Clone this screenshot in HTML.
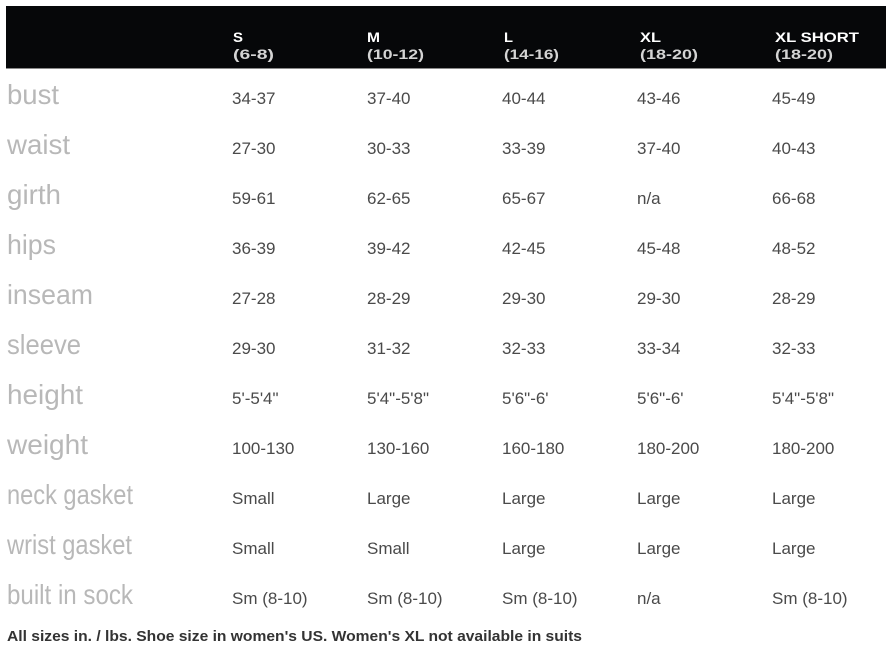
<!DOCTYPE html>
<html>
<head>
<meta charset="utf-8">
<style>
  html, body { margin: 0; padding: 0; background: #fff; }
  svg { display: block; }
  .lbl { font-family: "Liberation Sans", sans-serif; font-size: 28px; fill: #b8b8b8; }
  .val { font-family: "Liberation Sans", sans-serif; font-size: 17px; fill: #4a4a4a; }
  .h1 { font-family: "Liberation Sans", sans-serif; font-size: 13.5px; font-weight: bold; fill: #ffffff; }
  .h2 { font-family: "Liberation Sans", sans-serif; font-size: 13.5px; font-weight: bold; fill: #d4d4d4; }
  .foot { font-family: "Liberation Sans", sans-serif; font-size: 15px; font-weight: bold; fill: #333333; }
</style>
</head>
<body>
<svg width="892" height="647" viewBox="0 0 892 647" xmlns="http://www.w3.org/2000/svg">
  <rect x="0" y="0" width="892" height="647" fill="#ffffff"/>
  <rect x="6" y="6" width="880" height="62" fill="#060709"/>
  <rect x="6" y="68" width="880" height="1" fill="#8a8a8a"/>

  <!-- header -->
  <text class="h1" x="233" y="42" textLength="10" lengthAdjust="spacingAndGlyphs">S</text>
  <text class="h2" x="233" y="59" textLength="41" lengthAdjust="spacingAndGlyphs">(6-8)</text>
  <text class="h1" x="367" y="42" textLength="13" lengthAdjust="spacingAndGlyphs">M</text>
  <text class="h2" x="367" y="59" textLength="57" lengthAdjust="spacingAndGlyphs">(10-12)</text>
  <text class="h1" x="504" y="42" textLength="9" lengthAdjust="spacingAndGlyphs">L</text>
  <text class="h2" x="504" y="59" textLength="55" lengthAdjust="spacingAndGlyphs">(14-16)</text>
  <text class="h1" x="640" y="42" textLength="21" lengthAdjust="spacingAndGlyphs">XL</text>
  <text class="h2" x="640" y="59" textLength="58" lengthAdjust="spacingAndGlyphs">(18-20)</text>
  <text class="h1" x="775" y="42" textLength="84" lengthAdjust="spacingAndGlyphs">XL SHORT</text>
  <text class="h2" x="775" y="59" textLength="58" lengthAdjust="spacingAndGlyphs">(18-20)</text>

  <!-- labels -->
  <text class="lbl" x="7" y="104" textLength="52" lengthAdjust="spacingAndGlyphs">bust</text>
  <text class="lbl" x="7" y="154" textLength="63" lengthAdjust="spacingAndGlyphs">waist</text>
  <text class="lbl" x="7" y="204" textLength="54" lengthAdjust="spacingAndGlyphs">girth</text>
  <text class="lbl" x="7" y="254" textLength="49" lengthAdjust="spacingAndGlyphs">hips</text>
  <text class="lbl" x="7" y="304" textLength="86" lengthAdjust="spacingAndGlyphs">inseam</text>
  <text class="lbl" x="7" y="354" textLength="74" lengthAdjust="spacingAndGlyphs">sleeve</text>
  <text class="lbl" x="7" y="404" textLength="76" lengthAdjust="spacingAndGlyphs">height</text>
  <text class="lbl" x="7" y="454" textLength="81" lengthAdjust="spacingAndGlyphs">weight</text>
  <text class="lbl" x="7" y="504" textLength="126" lengthAdjust="spacingAndGlyphs">neck gasket</text>
  <text class="lbl" x="7" y="554" textLength="125" lengthAdjust="spacingAndGlyphs">wrist gasket</text>
  <text class="lbl" x="7" y="604" textLength="126" lengthAdjust="spacingAndGlyphs">built in sock</text>

  <!-- values -->
  <g>
    <text class="val" x="232" y="104">34-37</text>
    <text class="val" x="367" y="104">37-40</text>
    <text class="val" x="502" y="104">40-44</text>
    <text class="val" x="637" y="104">43-46</text>
    <text class="val" x="772" y="104">45-49</text>

    <text class="val" x="232" y="154">27-30</text>
    <text class="val" x="367" y="154">30-33</text>
    <text class="val" x="502" y="154">33-39</text>
    <text class="val" x="637" y="154">37-40</text>
    <text class="val" x="772" y="154">40-43</text>

    <text class="val" x="232" y="204">59-61</text>
    <text class="val" x="367" y="204">62-65</text>
    <text class="val" x="502" y="204">65-67</text>
    <text class="val" x="637" y="204">n/a</text>
    <text class="val" x="772" y="204">66-68</text>

    <text class="val" x="232" y="254">36-39</text>
    <text class="val" x="367" y="254">39-42</text>
    <text class="val" x="502" y="254">42-45</text>
    <text class="val" x="637" y="254">45-48</text>
    <text class="val" x="772" y="254">48-52</text>

    <text class="val" x="232" y="304">27-28</text>
    <text class="val" x="367" y="304">28-29</text>
    <text class="val" x="502" y="304">29-30</text>
    <text class="val" x="637" y="304">29-30</text>
    <text class="val" x="772" y="304">28-29</text>

    <text class="val" x="232" y="354">29-30</text>
    <text class="val" x="367" y="354">31-32</text>
    <text class="val" x="502" y="354">32-33</text>
    <text class="val" x="637" y="354">33-34</text>
    <text class="val" x="772" y="354">32-33</text>

    <text class="val" x="232" y="404">5'-5'4"</text>
    <text class="val" x="367" y="404">5'4"-5'8"</text>
    <text class="val" x="502" y="404">5'6"-6'</text>
    <text class="val" x="637" y="404">5'6"-6'</text>
    <text class="val" x="772" y="404">5'4"-5'8"</text>

    <text class="val" x="232" y="454">100-130</text>
    <text class="val" x="367" y="454">130-160</text>
    <text class="val" x="502" y="454">160-180</text>
    <text class="val" x="637" y="454">180-200</text>
    <text class="val" x="772" y="454">180-200</text>

    <text class="val" x="232" y="504">Small</text>
    <text class="val" x="367" y="504">Large</text>
    <text class="val" x="502" y="504">Large</text>
    <text class="val" x="637" y="504">Large</text>
    <text class="val" x="772" y="504">Large</text>

    <text class="val" x="232" y="554">Small</text>
    <text class="val" x="367" y="554">Small</text>
    <text class="val" x="502" y="554">Large</text>
    <text class="val" x="637" y="554">Large</text>
    <text class="val" x="772" y="554">Large</text>

    <text class="val" x="232" y="604">Sm (8-10)</text>
    <text class="val" x="367" y="604">Sm (8-10)</text>
    <text class="val" x="502" y="604">Sm (8-10)</text>
    <text class="val" x="637" y="604">n/a</text>
    <text class="val" x="772" y="604">Sm (8-10)</text>
  </g>

  <text class="foot" x="7" y="641" textLength="575" lengthAdjust="spacingAndGlyphs">All sizes in. / lbs. Shoe size in women's US. Women's XL not available in suits</text>
</svg>
</body>
</html>
